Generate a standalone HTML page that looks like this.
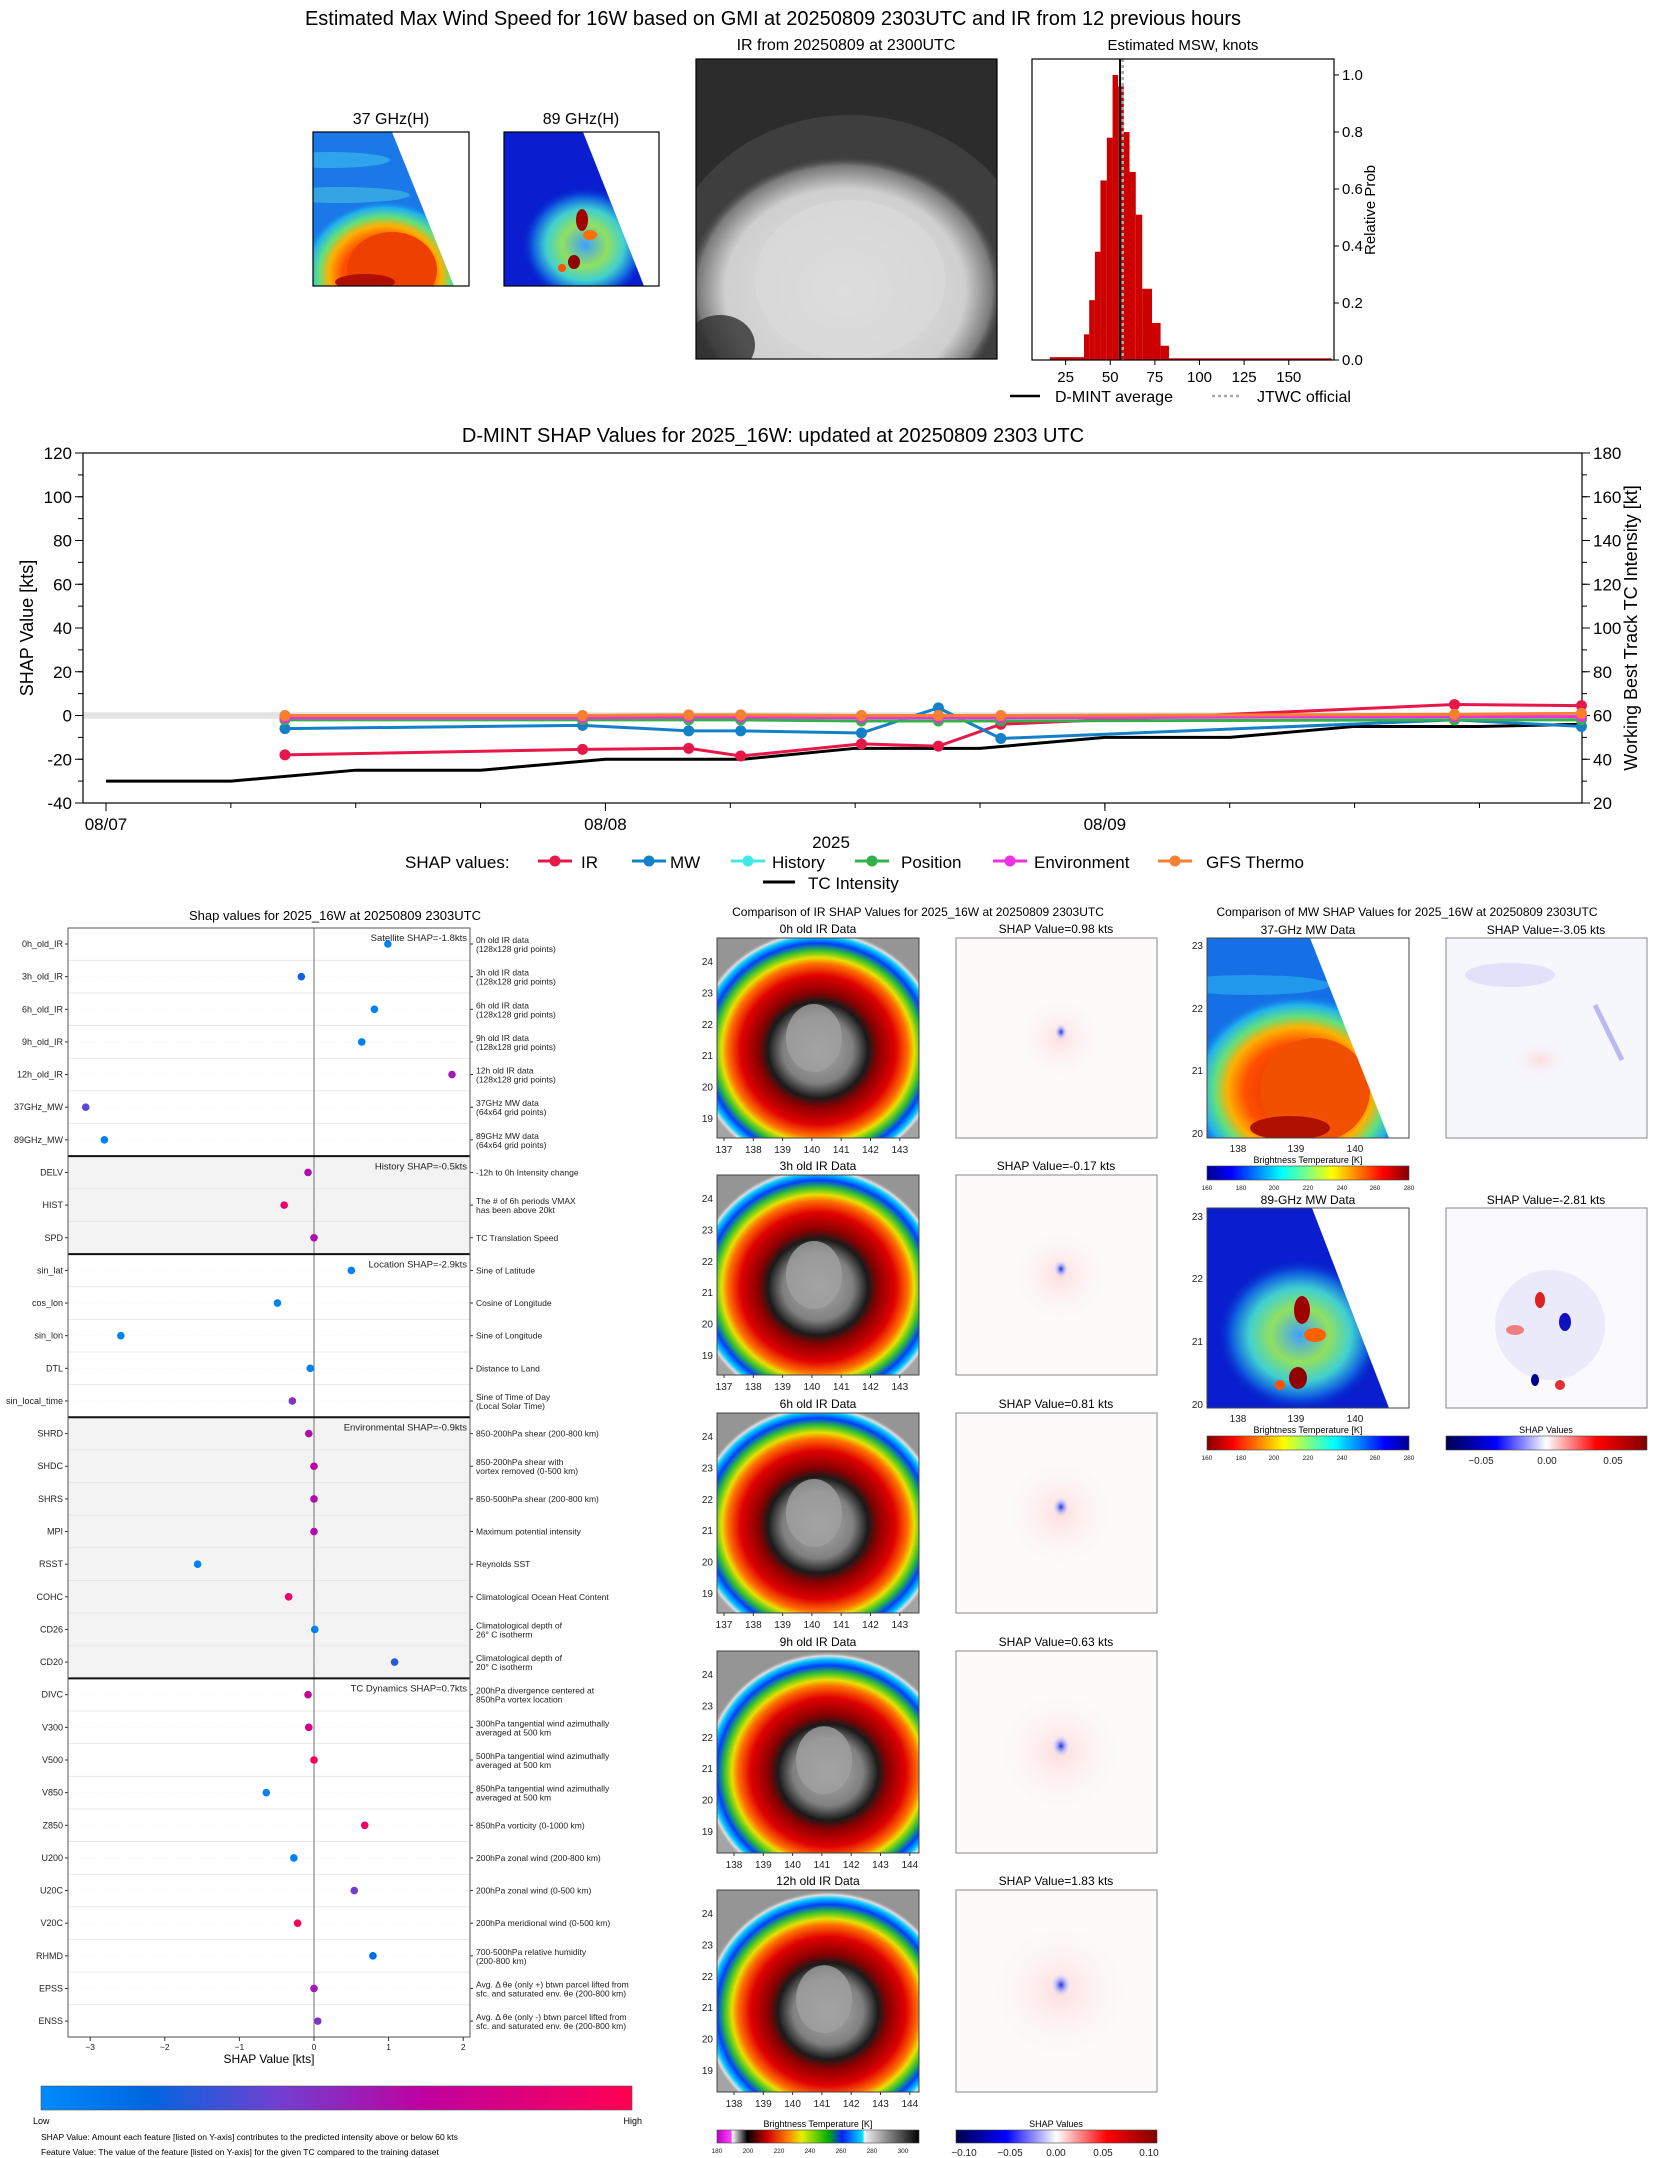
<!DOCTYPE html>
<html><head><meta charset="utf-8"><style>
body{margin:0;background:#fff;}
svg{display:block;font-family:"Liberation Sans",sans-serif;}
</style></head><body>
<svg id="fig" width="1655" height="2158" viewBox="0 0 1655 2158" xmlns="http://www.w3.org/2000/svg">
<defs>
  <radialGradient id="irg" cx="0.5" cy="0.5" r="0.5">
    <stop offset="0" stop-color="#b0b0b0"/><stop offset="0.28" stop-color="#808080"/>
    <stop offset="0.4" stop-color="#1a1a1a"/><stop offset="0.48" stop-color="#8a0000"/>
    <stop offset="0.62" stop-color="#e00000"/><stop offset="0.72" stop-color="#ff7000"/>
    <stop offset="0.77" stop-color="#e8e000"/><stop offset="0.83" stop-color="#30c030"/>
    <stop offset="0.89" stop-color="#0040ff"/><stop offset="0.94" stop-color="#00c8ff"/>
    <stop offset="0.97" stop-color="#e0e0e0"/><stop offset="1" stop-color="#a8a8a8" stop-opacity="0"/>
  </radialGradient>
  <radialGradient id="g37" cx="0.5" cy="0.5" r="0.5">
    <stop offset="0" stop-color="#d02000"/><stop offset="0.5" stop-color="#ff5000"/>
    <stop offset="0.66" stop-color="#ffb000"/><stop offset="0.78" stop-color="#60e080"/>
    <stop offset="0.9" stop-color="#20b0f0"/><stop offset="1" stop-color="#1070e0" stop-opacity="0"/>
  </radialGradient>
  <radialGradient id="g89" cx="0.5" cy="0.5" r="0.5">
    <stop offset="0" stop-color="#40a0ff"/><stop offset="0.35" stop-color="#90e060"/>
    <stop offset="0.6" stop-color="#40d0d0"/><stop offset="0.8" stop-color="#1060e0"/>
    <stop offset="1" stop-color="#0010c0" stop-opacity="0"/>
  </radialGradient>
  <radialGradient id="gcloud" cx="0.5" cy="0.5" r="0.5">
    <stop offset="0" stop-color="#e4e4e4"/><stop offset="0.75" stop-color="#cfcfcf"/>
    <stop offset="0.92" stop-color="#7a7a7a"/><stop offset="1" stop-color="#353535" stop-opacity="0"/>
  </radialGradient>
  <radialGradient id="gspot" cx="0.5" cy="0.5" r="0.5">
    <stop offset="0" stop-color="#2030d0"/><stop offset="0.5" stop-color="#a0a8ff" stop-opacity="0.6"/>
    <stop offset="1" stop-color="#ffffff" stop-opacity="0"/>
  </radialGradient>
  <radialGradient id="gpink" cx="0.5" cy="0.5" r="0.5">
    <stop offset="0" stop-color="#ffc0c0" stop-opacity="0.5"/><stop offset="1" stop-color="#ffffff" stop-opacity="0"/>
  </radialGradient>
  <linearGradient id="cbShap" x1="0" x2="1"><stop offset="0" stop-color="#008bfb"/><stop offset="0.18" stop-color="#0066e0"/><stop offset="0.4" stop-color="#7040d0"/><stop offset="0.65" stop-color="#c000a0"/><stop offset="1" stop-color="#ff0052"/></linearGradient>
  <linearGradient id="cbJet" x1="0" x2="1"><stop offset="0" stop-color="#00008f"/><stop offset="0.12" stop-color="#0000ff"/><stop offset="0.37" stop-color="#00ffff"/><stop offset="0.5" stop-color="#80ff80"/><stop offset="0.62" stop-color="#ffff00"/><stop offset="0.87" stop-color="#ff0000"/><stop offset="1" stop-color="#800000"/></linearGradient>
  <linearGradient id="cbJetR" x1="1" x2="0"><stop offset="0" stop-color="#00008f"/><stop offset="0.12" stop-color="#0000ff"/><stop offset="0.37" stop-color="#00ffff"/><stop offset="0.5" stop-color="#80ff80"/><stop offset="0.62" stop-color="#ffff00"/><stop offset="0.87" stop-color="#ff0000"/><stop offset="1" stop-color="#800000"/></linearGradient>
  <linearGradient id="cbSeis" x1="0" x2="1"><stop offset="0" stop-color="#00004c"/><stop offset="0.25" stop-color="#0000ff"/><stop offset="0.5" stop-color="#ffffff"/><stop offset="0.75" stop-color="#ff0000"/><stop offset="1" stop-color="#800000"/></linearGradient>
  <linearGradient id="cbIR" x1="0" x2="1"><stop offset="0" stop-color="#c000c0"/><stop offset="0.07" stop-color="#ff40ff"/><stop offset="0.075" stop-color="#ffffff"/><stop offset="0.15" stop-color="#000"/><stop offset="0.25" stop-color="#d00000"/><stop offset="0.35" stop-color="#ff8000"/><stop offset="0.42" stop-color="#e8f000"/><stop offset="0.55" stop-color="#00b000"/><stop offset="0.62" stop-color="#0020ff"/><stop offset="0.72" stop-color="#00e0ff"/><stop offset="0.73" stop-color="#f0f0f0"/><stop offset="1" stop-color="#000"/></linearGradient>
  <clipPath id="c37"><rect x="313" y="132" width="156" height="154"/></clipPath>
  <clipPath id="c89"><rect x="504" y="132" width="155" height="154"/></clipPath>
  <clipPath id="cIRtop"><rect x="696" y="59" width="301" height="300"/></clipPath>
  <clipPath id="cM37"><rect x="1207" y="938" width="202" height="200"/></clipPath>
  <clipPath id="cM89"><rect x="1207" y="1208" width="202" height="200"/></clipPath>
</defs>

<!-- TOP PANEL -->
<text x="773" y="25" font-size="20" text-anchor="middle">Estimated Max Wind Speed for 16W based on GMI at 20250809 2303UTC and IR from 12 previous hours</text>
<text x="391" y="124" font-size="16" text-anchor="middle">37 GHz(H)</text>
<text x="581" y="124" font-size="16" text-anchor="middle">89 GHz(H)</text>
<g clip-path="url(#c37)">
  <rect x="313" y="132" width="156" height="154" fill="#1a78e8"/>
  <ellipse cx="330" cy="160" rx="60" ry="8" fill="#40c0f0" opacity="0.6"/>
  <ellipse cx="340" cy="195" rx="70" ry="8" fill="#50d0e0" opacity="0.5"/>
  <ellipse cx="385" cy="275" rx="85" ry="75" fill="url(#g37)"/>
  <ellipse cx="392" cy="270" rx="45" ry="38" fill="#ee4000"/>
  <ellipse cx="365" cy="282" rx="30" ry="8" fill="#b01000"/>
  <polygon points="392,132 469,132 469,286 454,286" fill="#fff"/>
</g>
<rect x="313" y="132" width="156" height="154" fill="none" stroke="#000" stroke-width="1.2"/>
<g clip-path="url(#c89)">
  <rect x="504" y="132" width="155" height="154" fill="#0a1ed0"/>
  <ellipse cx="585" cy="245" rx="65" ry="60" fill="url(#g89)"/>
  <ellipse cx="582" cy="220" rx="6" ry="11" fill="#a00000"/>
  <ellipse cx="590" cy="235" rx="7" ry="5" fill="#ff7000"/>
  <ellipse cx="574" cy="262" rx="6" ry="7" fill="#900000"/>
  <ellipse cx="562" cy="268" rx="4" ry="4" fill="#ff5000"/>
  <polygon points="583,132 659,132 659,286 644,286" fill="#fff"/>
</g>
<rect x="504" y="132" width="155" height="154" fill="none" stroke="#000" stroke-width="1.2"/>
<text x="846" y="50" font-size="16" text-anchor="middle">IR from 20250809 at 2300UTC</text>
<g clip-path="url(#cIRtop)">
  <rect x="696" y="59" width="301" height="300" fill="#2c2c2c"/>
  <ellipse cx="850" cy="280" rx="185" ry="165" fill="#3e3e3e"/>
  <ellipse cx="845" cy="290" rx="160" ry="135" fill="url(#gcloud)"/>
  <ellipse cx="850" cy="280" rx="95" ry="80" fill="#dadada" opacity="0.7"/>
  <ellipse cx="720" cy="345" rx="35" ry="30" fill="#303030" opacity="0.8"/>
</g>
<rect x="696" y="59" width="301" height="300" fill="none" stroke="#000" stroke-width="1.2"/>
<text x="1183" y="50" font-size="15" text-anchor="middle">Estimated MSW, knots</text>
<g id="hist"></g>
<rect x="1032" y="59" width="302" height="301" fill="none" stroke="#000" stroke-width="1.2"/>
<text transform="translate(1375,210) rotate(-90)" font-size="15" text-anchor="middle">Relative Prob</text>
<line x1="1010" y1="396" x2="1040" y2="396" stroke="#000" stroke-width="2.5"/>
<text x="1055" y="402" font-size="16">D-MINT average</text>
<line x1="1212" y1="396" x2="1242" y2="396" stroke="#aaa" stroke-width="2.5" stroke-dasharray="3,3"/>
<text x="1257" y="402" font-size="16">JTWC official</text>

<!-- TIME SERIES -->
<text x="773" y="442" font-size="20" text-anchor="middle">D-MINT SHAP Values for 2025_16W: updated at 20250809 2303 UTC</text>
<g id="ts"></g>
<text transform="translate(33,628) rotate(-90)" font-size="18" text-anchor="middle">SHAP Value [kts]</text>
<text transform="translate(1637,628) rotate(-90)" font-size="18" text-anchor="middle">Working Best Track TC Intensity [kt]</text>
<text x="831" y="848" font-size="17" text-anchor="middle">2025</text>
<text x="405" y="868" font-size="17">SHAP values:</text>
<g id="tslegend"></g>

<!-- LEFT SHAP PANEL -->
<text x="335" y="920" font-size="13" text-anchor="middle">Shap values for 2025_16W at 20250809 2303UTC</text>
<g id="feat"></g>
<text x="269" y="2063" font-size="12" text-anchor="middle">SHAP Value [kts]</text>
<rect x="41" y="2086" width="591" height="24" fill="url(#cbShap)" stroke="#555" stroke-width="0.6"/>
<text x="33" y="2124" font-size="9">Low</text>
<text x="642" y="2124" font-size="9" text-anchor="end">High</text>
<text x="41" y="2140" font-size="8.5">SHAP Value: Amount each feature [listed on Y-axis] contributes to the predicted intensity above or below 60 kts</text>
<text x="41" y="2155" font-size="8.5">Feature Value: The value of the feature [listed on Y-axis] for the given TC compared to the training dataset</text>

<!-- IR / MW comparison -->
<text x="918" y="916" font-size="12" text-anchor="middle">Comparison of IR SHAP Values for 2025_16W at 20250809 2303UTC</text>
<text x="1407" y="916" font-size="12" text-anchor="middle">Comparison of MW SHAP Values for 2025_16W at 20250809 2303UTC</text>
<g id="irgrid"></g>

<text x="1308" y="934" font-size="12" text-anchor="middle">37-GHz MW Data</text>
<g clip-path="url(#cM37)">
  <rect x="1207" y="938" width="202" height="200" fill="#1570e8"/>
  <ellipse cx="1250" cy="985" rx="80" ry="10" fill="#30c0f0" opacity="0.5"/>
  <ellipse cx="1300" cy="1090" rx="110" ry="95" fill="url(#g37)"/>
  <ellipse cx="1315" cy="1090" rx="55" ry="52" fill="#f05000"/>
  <ellipse cx="1290" cy="1128" rx="40" ry="12" fill="#b01000"/>
  <polygon points="1310,938 1409,938 1409,1138 1389,1138" fill="#fff"/>
</g>
<rect x="1207" y="938" width="202" height="200" fill="none" stroke="#444"/>
<text x="1308" y="1204" font-size="12" text-anchor="middle">89-GHz MW Data</text>
<g clip-path="url(#cM89)">
  <rect x="1207" y="1208" width="202" height="200" fill="#0a1ed0"/>
  <ellipse cx="1300" cy="1335" rx="85" ry="78" fill="url(#g89)"/>
  <ellipse cx="1302" cy="1310" rx="8" ry="14" fill="#a00000"/>
  <ellipse cx="1315" cy="1335" rx="11" ry="7" fill="#ff6000"/>
  <ellipse cx="1298" cy="1378" rx="9" ry="11" fill="#900000"/>
  <ellipse cx="1280" cy="1385" rx="5" ry="5" fill="#ff5000"/>
  <polygon points="1312,1208 1409,1208 1409,1408 1389,1408" fill="#fff"/>
</g>
<rect x="1207" y="1208" width="202" height="200" fill="none" stroke="#444"/>
<text x="1546" y="934" font-size="12" text-anchor="middle">SHAP Value=-3.05 kts</text>
<g>
  <rect x="1446" y="938" width="201" height="200" fill="#f6f6fd"/>
  <ellipse cx="1510" cy="975" rx="45" ry="12" fill="#d8d8f6" opacity="0.7"/>
  <line x1="1595" y1="1005" x2="1622" y2="1060" stroke="#8080e8" stroke-width="5" opacity="0.5"/>
  <ellipse cx="1540" cy="1060" rx="30" ry="20" fill="url(#gpink)"/>
</g>
<rect x="1446" y="938" width="201" height="200" fill="none" stroke="#888"/>
<text x="1546" y="1204" font-size="12" text-anchor="middle">SHAP Value=-2.81 kts</text>
<g>
  <rect x="1446" y="1208" width="201" height="200" fill="#f9f9fe"/>
  <ellipse cx="1550" cy="1325" rx="55" ry="55" fill="#e4e4fa" opacity="0.7"/>
  <ellipse cx="1540" cy="1300" rx="5" ry="8" fill="#e02020"/>
  <ellipse cx="1565" cy="1322" rx="6" ry="9" fill="#1010c0"/>
  <ellipse cx="1535" cy="1380" rx="4" ry="6" fill="#000090"/>
  <ellipse cx="1560" cy="1385" rx="5" ry="5" fill="#e03030"/>
  <ellipse cx="1515" cy="1330" rx="9" ry="5" fill="#f08080"/>
</g>
<rect x="1446" y="1208" width="201" height="200" fill="none" stroke="#888"/>
<g font-size="10" fill="#222">
  <text x="1203" y="949" text-anchor="end">23</text><text x="1203" y="1012" text-anchor="end">22</text><text x="1203" y="1074" text-anchor="end">21</text><text x="1203" y="1137" text-anchor="end">20</text>
  <text x="1238" y="1152" text-anchor="middle">138</text><text x="1296" y="1152" text-anchor="middle">139</text><text x="1355" y="1152" text-anchor="middle">140</text>
  <text x="1203" y="1220" text-anchor="end">23</text><text x="1203" y="1282" text-anchor="end">22</text><text x="1203" y="1345" text-anchor="end">21</text><text x="1203" y="1408" text-anchor="end">20</text>
  <text x="1238" y="1422" text-anchor="middle">138</text><text x="1296" y="1422" text-anchor="middle">139</text><text x="1355" y="1422" text-anchor="middle">140</text>
</g>
<text x="1308" y="1163" font-size="9" text-anchor="middle">Brightness Temperature [K]</text>
<rect x="1207" y="1166" width="202" height="14" fill="url(#cbJet)" stroke="#444" stroke-width="0.6"/>
<text x="1308" y="1433" font-size="9" text-anchor="middle">Brightness Temperature [K]</text>
<rect x="1207" y="1436" width="202" height="14" fill="url(#cbJetR)" stroke="#444" stroke-width="0.6"/>
<g font-size="6.5" fill="#222" text-anchor="middle">
  <text x="1207" y="1190">160</text><text x="1241" y="1190">180</text><text x="1274" y="1190">200</text><text x="1308" y="1190">220</text><text x="1342" y="1190">240</text><text x="1375" y="1190">260</text><text x="1409" y="1190">280</text>
  <text x="1207" y="1460">160</text><text x="1241" y="1460">180</text><text x="1274" y="1460">200</text><text x="1308" y="1460">220</text><text x="1342" y="1460">240</text><text x="1375" y="1460">260</text><text x="1409" y="1460">280</text>
</g>
<text x="1546" y="1433" font-size="9" text-anchor="middle">SHAP Values</text>
<rect x="1446" y="1436" width="201" height="14" fill="url(#cbSeis)" stroke="#444" stroke-width="0.6"/>
<g font-size="10" fill="#222" text-anchor="middle"><text x="1481" y="1464">−0.05</text><text x="1547" y="1464">0.00</text><text x="1613" y="1464">0.05</text></g>

<text x="818" y="2127" font-size="9" text-anchor="middle">Brightness Temperature [K]</text>
<rect x="717" y="2130" width="202" height="13" fill="url(#cbIR)" stroke="#444" stroke-width="0.6"/>
<g font-size="6.5" fill="#222" text-anchor="middle"><text x="717" y="2153">180</text><text x="748" y="2153">200</text><text x="779" y="2153">220</text><text x="810" y="2153">240</text><text x="841" y="2153">260</text><text x="872" y="2153">280</text><text x="903" y="2153">300</text></g>
<text x="1056" y="2127" font-size="9" text-anchor="middle">SHAP Values</text>
<rect x="956" y="2130" width="201" height="13" fill="url(#cbSeis)" stroke="#444" stroke-width="0.6"/>
<g font-size="10" fill="#222" text-anchor="middle"><text x="964" y="2156">−0.10</text><text x="1010" y="2156">−0.05</text><text x="1056" y="2156">0.00</text><text x="1103" y="2156">0.05</text><text x="1149" y="2156">0.10</text></g>
</svg>
<script>
const NS='http://www.w3.org/2000/svg';
function mk(parent,tag,attrs,txt){const e=document.createElementNS(NS,tag);for(const k in attrs)e.setAttribute(k,attrs[k]);if(txt!==undefined)e.textContent=txt;parent.appendChild(e);return e;}

// ---------- Histogram data ----------
const histBinLeft=[16.1,35.3,38.2,41.4,44.5,48.1,51.3,54.4,57.6,60.8,64.3,67.9,73.4,78.2,82.9];
const histBinRight=[35.3,38.2,41.4,44.5,48.1,51.3,54.4,57.6,60.8,64.3,67.9,73.4,78.2,82.9,174];
const histProb=[0.01,0.09,0.21,0.38,0.63,0.78,1.0,0.96,0.8,0.66,0.51,0.25,0.13,0.05,0.006];
const histXTicks=[25,50,75,100,125,150];
const histYTicks=[0,0.2,0.4,0.6,0.8,1.0];
const dmintMean=[55.5];
const jtwcOfficial=[57];
const hx=k=>1021+k*1.785, hy=p=>360-p*285;
const H=document.getElementById('hist');
histProb.forEach((p,i)=>{const r=mk(H,'rect',{x:hx(histBinLeft[i]),y:hy(p),width:hx(histBinRight[i])-hx(histBinLeft[i]),height:360-hy(p),fill:'#cc0000'});

});
const ml=mk(H,'line',{x1:hx(dmintMean[0]),x2:hx(dmintMean[0]),y1:59,y2:360,stroke:'#000','stroke-width':2});


const jl=mk(H,'line',{x1:hx(jtwcOfficial[0]),x2:hx(jtwcOfficial[0]),y1:59,y2:360,stroke:'#aaa','stroke-width':2.5,'stroke-dasharray':'3,3'});


histXTicks.forEach(v=>{mk(H,'line',{x1:hx(v),x2:hx(v),y1:360,y2:365,stroke:'#000'});
const t=mk(H,'text',{x:hx(v),y:382,'font-size':15,'text-anchor':'middle'},v);

});
histYTicks.forEach(v=>{mk(H,'line',{x1:1334,x2:1339,y1:hy(v),y2:hy(v),stroke:'#000'});
const t=mk(H,'text',{x:1342,y:hy(v)+5,'font-size':15},v.toFixed(1));

});

// ---------- Time series data (hours since 08/07 00UTC) ----------
const shapHours=[8.6,22.9,28,30.5,36.3,40,43,64.8,70.9];
const irShap=[-18,-15.5,-15,-18.5,-13,-14,-4,5,4.5];
const mwShap=[-6,-4.5,-7,-7,-8,3.5,-10.5,-2,-5];
const historyShap=[-1,-1,-1,-1,-1,-1,-1,-0.5,-0.5];
const positionShap=[-2,-2,-2,-2,-2.5,-2.5,-2.5,-2,-2];
const environmentShap=[-1,-1,-0.7,-0.7,-1,-1,-1,-0.5,-0.5];
const gfsShap=[0,0,0.3,0.3,0,0,0,0.5,1];
const tcHours=[0,6,12,18,24,30.6,36,42,48,54,60,66,71];
const tcIntensity=[30,30,35,35,40,40,45,45,50,50,55,55,56];
const leftTicks=[-40,-20,0,20,40,60,80,100,120];
const rightTicks=[20,40,60,80,100,120,140,160,180];
const dateTicks=[{h:0,l:'08/07'},{h:24,l:'08/08'},{h:48,l:'08/09'}];
const xT=h=>106+h*20.81, yL=v=>803-(v+40)*2.1875, yR=k=>803-(k-20)*2.1875;
const T=document.getElementById('ts');
const band=mk(T,'rect',{x:83,y:yL(1.5),width:1499,height:yL(-1.5)-yL(1.5),fill:'#e3e3e3'});


const frame=mk(T,'rect',{x:83,y:453,width:1499,height:350,fill:'none',stroke:'#000','stroke-width':1.2});


for(let v=-40;v<=120;v+=10){mk(T,'line',{x1:78,x2:83,y1:yL(v),y2:yL(v),stroke:'#000'});}
leftTicks.forEach(v=>{mk(T,'line',{x1:75,x2:83,y1:yL(v),y2:yL(v),stroke:'#000'});
const t=mk(T,'text',{x:72,y:yL(v)+6,'font-size':17,'text-anchor':'end'},v);

});
for(let k=20;k<=180;k+=10){mk(T,'line',{x1:1582,x2:1587,y1:yR(k),y2:yR(k),stroke:'#000'});}
rightTicks.forEach(k=>{mk(T,'line',{x1:1582,x2:1590,y1:yR(k),y2:yR(k),stroke:'#000'});
const t=mk(T,'text',{x:1593,y:yR(k)+6,'font-size':17},k);

});
for(let h=0;h<=70;h+=6){mk(T,'line',{x1:xT(h),x2:xT(h),y1:803,y2:808,stroke:'#000'});}
dateTicks.forEach(d=>{mk(T,'line',{x1:xT(d.h),x2:xT(d.h),y1:803,y2:811,stroke:'#000'});
const t=mk(T,'text',{x:xT(d.h),y:830,'font-size':17,'text-anchor':'middle'},d.l);

});
const series=[['ir',irShap,'#e8174a'],['mw',mwShap,'#1380c8'],['history',historyShap,'#40e8e8'],['position',positionShap,'#34b048'],['environment',environmentShap,'#f030e0'],['gfs-thermo',gfsShap,'#f58030']];
const tl=mk(T,'polyline',{points:tcHours.map((h,i)=>xT(h)+','+yR(tcIntensity[i])).join(' '),fill:'none',stroke:'#000','stroke-width':3});


series.forEach(([nm,vals,c])=>{const g=mk(T,'g',{});


const pl=mk(g,'polyline',{points:shapHours.map((h,i)=>xT(h)+','+yL(vals[i])).join(' '),fill:'none',stroke:c,'stroke-width':3});


vals.forEach((v,i)=>{const p=mk(g,'circle',{cx:xT(shapHours[i]),cy:yL(v),r:5.5,fill:c});

});});
const L=document.getElementById('tslegend');
const legItems=[['IR',555,581,'#e8174a'],['MW',649,670,'#1380c8'],['History',748,772,'#40e8e8'],['Position',872,901,'#34b048'],['Environment',1010,1034,'#f030e0'],['GFS Thermo',1175,1206,'#f58030']];
legItems.forEach(([lab,mx,tx,c])=>{const g=mk(L,'g',{});


mk(g,'line',{x1:mx-17,x2:mx+17,y1:861,y2:861,stroke:c,'stroke-width':3});
mk(g,'circle',{cx:mx,cy:861,r:5.5,fill:c});
mk(g,'text',{x:tx,y:868,'font-size':17},lab);});
const lg=mk(L,'g',{});


mk(lg,'line',{x1:763,x2:795,y1:882,y2:882,stroke:'#000','stroke-width':3});
mk(lg,'text',{x:808,y:889,'font-size':17},'TC Intensity');

// ---------- Feature SHAP panel ----------
const featNames=['0h_old_IR','3h_old_IR','6h_old_IR','9h_old_IR','12h_old_IR','37GHz_MW','89GHz_MW','DELV','HIST','SPD','sin_lat','cos_lon','sin_lon','DTL','sin_local_time','SHRD','SHDC','SHRS','MPI','RSST','COHC','CD26','CD20','DIVC','V300','V500','V850','Z850','U200','U20C','V20C','RHMD','EPSS','ENSS'];
const featShap=[0.99,-0.17,0.81,0.64,1.85,-3.06,-2.81,-0.08,-0.4,0.0,0.5,-0.49,-2.59,-0.05,-0.29,-0.07,0.0,0.0,0.0,-1.56,-0.34,0.01,1.08,-0.08,-0.07,0.0,-0.64,0.68,-0.27,0.54,-0.22,0.79,0.0,0.05];
const featValue=[0.05,0.2,0.05,0.05,0.55,0.35,0.05,0.6,0.9,0.6,0.05,0.05,0.05,0.05,0.45,0.6,0.65,0.6,0.6,0.05,0.9,0.05,0.25,0.7,0.75,0.95,0.05,0.92,0.05,0.4,0.97,0.15,0.55,0.45];
const featDesc=[['0h old IR data','(128x128 grid points)'],['3h old IR data','(128x128 grid points)'],['6h old IR data','(128x128 grid points)'],['9h old IR data','(128x128 grid points)'],['12h old IR data','(128x128 grid points)'],['37GHz MW data','(64x64 grid points)'],['89GHz MW data','(64x64 grid points)'],['-12h to 0h Intensity change'],['The # of 6h periods VMAX','has been above 20kt'],['TC Translation Speed'],['Sine of Latitude'],['Cosine of Longitude'],['Sine of Longitude'],['Distance to Land'],['Sine of Time of Day','(Local Solar Time)'],['850-200hPa shear (200-800 km)'],['850-200hPa shear with','vortex removed (0-500 km)'],['850-500hPa shear (200-800 km)'],['Maximum potential intensity'],['Reynolds SST'],['Climatological Ocean Heat Content'],['Climatological depth of','26° C isotherm'],['Climatological depth of','20° C isotherm'],['200hPa divergence centered at','850hPa vortex location'],['300hPa tangential wind azimuthally','averaged at 500 km'],['500hPa tangential wind azimuthally','averaged at 500 km'],['850hPa tangential wind azimuthally','averaged at 500 km'],['850hPa vorticity (0-1000 km)'],['200hPa zonal wind (200-800 km)'],['200hPa zonal wind (0-500 km)'],['200hPa meridional wind (0-500 km)'],['700-500hPa relative humidity','(200-800 km)'],['Avg. Δ θe (only +) btwn parcel lifted from','sfc. and saturated env. θe (200-800 km)'],['Avg. Δ θe (only -) btwn parcel lifted from','sfc. and saturated env. θe (200-800 km)']];
const sections=[{name:'Satellite SHAP=-1.8kts',start:0,end:6,shade:false},{name:'History SHAP=-0.5kts',start:7,end:9,shade:true},{name:'Location SHAP=-2.9kts',start:10,end:14,shade:false},{name:'Environmental SHAP=-0.9kts',start:15,end:22,shade:true},{name:'TC Dynamics SHAP=0.7kts',start:23,end:33,shade:false}];
const featXTicks=[-3,-2,-1,0,1,2];
const fx=v=>314+v*74.6, fy=i=>944+i*32.64;
function cmap(t){const st=[[0,[0,139,251]],[0.18,[0,102,224]],[0.4,[112,64,208]],[0.65,[192,0,160]],[1,[255,0,82]]];for(let i=1;i<st.length;i++){if(t<=st[i][0]){const a=st[i-1],b=st[i],f=(t-a[0])/(b[0]-a[0]);return 'rgb('+a[1].map((c,j)=>Math.round(c+(b[1][j]-c)*f)).join(',')+')';}}return 'rgb(255,0,82)';}
const F=document.getElementById('feat');
sections.forEach(s=>{if(s.shade){const r=mk(F,'rect',{x:68,y:fy(s.start)-16.3,width:402,height:(s.end-s.start+1)*32.64,fill:'#f3f3f3'});

}});
featNames.forEach((n,i)=>{const y=fy(i);
mk(F,'line',{x1:68,x2:470,y1:y+16.3,y2:y+16.3,stroke:'#e4e4e4','stroke-width':0.8});
mk(F,'line',{x1:68,x2:470,y1:y,y2:y,stroke:'#eee','stroke-width':0.6,'stroke-dasharray':'1,2'});
mk(F,'line',{x1:65,x2:68,y1:y,y2:y,stroke:'#333'});mk(F,'line',{x1:470,x2:473,y1:y,y2:y,stroke:'#333'});
const lab=mk(F,'text',{x:63,y:y+3,'font-size':9,'text-anchor':'end',fill:'#222'},n);


const d=featDesc[i];d.forEach((ln,j)=>{const t=mk(F,'text',{x:476,y:y+(d.length==1?3:-1+j*9),'font-size':8.5,fill:'#222'},ln);

});});
mk(F,'line',{x1:fx(0),x2:fx(0),y1:928,y2:2037,stroke:'#888','stroke-width':1.2});
sections.forEach((s,k)=>{if(k>0){const l=mk(F,'line',{x1:68,x2:470,y1:fy(s.start)-16.3,y2:fy(s.start)-16.3,stroke:'#111','stroke-width':2});

}
const t=mk(F,'text',{x:467,y:fy(s.start)-3,'font-size':9.5,'text-anchor':'end',fill:'#222'},s.name);

});
featShap.forEach((v,i)=>{const c=mk(F,'circle',{cx:fx(v),cy:fy(i),r:3.8,fill:cmap(featValue[i])});

});
const ff=mk(F,'rect',{x:68,y:928,width:402,height:1109,fill:'none',stroke:'#555','stroke-width':1});


featXTicks.forEach(v=>{mk(F,'line',{x1:fx(v),x2:fx(v),y1:2037,y2:2041,stroke:'#333'});
const t=mk(F,'text',{x:fx(v),y:2050,'font-size':8.5,'text-anchor':'middle',fill:'#222'},v<0?'−'+(-v):v);

});

// ---------- IR comparison grid ----------
const irLabels=['0h','3h','6h','9h','12h'];
const irShapVals=['0.98','-0.17','0.81','0.63','1.83'];
const irTops=[938,1175,1413,1651,1890];
const irHeights=[200,200,200,202,202];
const irLonStart=[137,137,137,138,138];
const G=document.getElementById('irgrid');
irLabels.forEach((lab,r)=>{const top=irTops[r],h=irHeights[r];
const cp=mk(G,'clipPath',{id:'cir'+r});mk(cp,'rect',{x:717,y:top,width:202,height:h});
const g=mk(G,'g',{'clip-path':'url(#cir'+r+')'});


mk(g,'rect',{x:717,y:top,width:202,height:h,fill:'#a4a4a4'});
mk(g,'rect',{x:717,y:top,width:202,height:h*0.35,fill:'#8c8c8c',opacity:0.6});
const cx=717+202*(r<3?0.5:0.55), cy=top+h*(r<3?0.56:0.6);
mk(g,'ellipse',{cx:cx,cy:cy,rx:125,ry:120,fill:'url(#irg)'});
mk(g,'ellipse',{cx:cx-4,cy:cy-12,rx:28,ry:34,fill:'#a0a0a0',opacity:0.8});
const t1=mk(G,'text',{x:818,y:top-5,'font-size':12,'text-anchor':'middle'},lab+' old IR Data');


mk(G,'rect',{x:717,y:top,width:202,height:h,fill:'none',stroke:'#444'});
const sg=mk(G,'g',{});


mk(sg,'rect',{x:956,y:top,width:201,height:h,fill:'#fdfafa',stroke:'#888'});
mk(sg,'ellipse',{cx:1060,cy:top+h*0.5,rx:45+r*8,ry:45+r*8,fill:'url(#gpink)'});
mk(sg,'ellipse',{cx:1061,cy:top+h*0.47,rx:7+r,ry:9+r,fill:'url(#gspot)'});
const t2=mk(G,'text',{x:1056,y:top-5,'font-size':12,'text-anchor':'middle'},'SHAP Value='+irShapVals[r]+' kts');


for(let k=0;k<7;k++){const lon=irLonStart[r]+k,x=(r<3?724:734)+k*29.3;
mk(G,'line',{x1:x,x2:x,y1:top+h,y2:top+h+3,stroke:'#333'});
const t=mk(G,'text',{x:x,y:top+h+15,'font-size':10,'text-anchor':'middle',fill:'#222'},lon);

}
for(let k=0;k<6;k++){const lat=24-k,y=top+23+k*31.4;
const t=mk(G,'text',{x:713,y:y+4,'font-size':10,'text-anchor':'end',fill:'#222'},lat);

}});
</script>
</body></html>
